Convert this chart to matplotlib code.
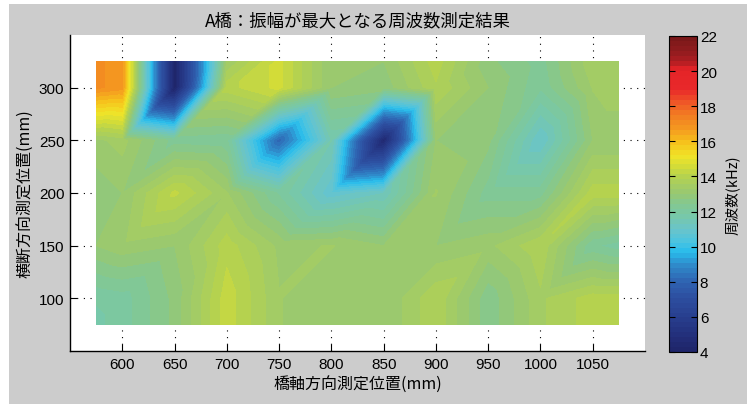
import numpy as np
import matplotlib
matplotlib.use("Agg")
import matplotlib.pyplot as plt
import matplotlib.tri as mtri
from matplotlib.colors import LinearSegmentedColormap, Normalize
from matplotlib.patches import Rectangle

# ---------------- data ----------------
x_mm = [575, 600, 650, 700, 750, 800, 850, 900, 950, 1000, 1050, 1075]
y_mm = [75, 100, 150, 200, 250, 300, 325]
# frequency (kHz), one row per y position (bottom -> top)
freq_y75 = [11.8, 12.0, 12.8, 14.3, 13.3, 13.0, 13.0, 13.8, 12.5, 13.5, 14.0, 14.0]
freq_y100 = [11.9, 12.0, 12.8, 14.3, 13.3, 13.0, 13.0, 13.8, 12.5, 13.5, 14.0, 14.0]
freq_y150 = [13.0, 13.2, 13.0, 14.0, 13.2, 13.3, 13.0, 13.0, 13.2, 13.8, 12.2, 12.0]
freq_y200 = [12.8, 13.0, 14.2, 13.3, 12.1, 10.8, 11.3, 13.3, 12.3, 12.3, 14.0, 14.0]
freq_y250 = [13.2, 13.4, 12.3, 12.2, 8.0, 11.6, 4.4, 13.0, 12.8, 11.0, 13.0, 13.0]
freq_y300 = [17.0, 16.8, 4.0, 14.0, 14.5, 13.0, 12.8, 13.8, 13.0, 12.2, 13.3, 13.5]
freq_y325 = [17.0, 16.8, 4.0, 13.3, 14.5, 13.0, 13.0, 14.0, 12.8, 12.3, 13.5, 13.5]

x_ticks = [600, 650, 700, 750, 800, 850, 900, 950, 1000, 1050]
y_ticks = [100, 150, 200, 250, 300]
cbar_ticks = [4, 6, 8, 10, 12, 14, 16, 18, 20, 22]

title = "A橋：振幅が最大となる周波数測定結果"
xlabel = "橋軸方向測定位置(mm)"
ylabel = "横断方向測定位置(mm)"
cbar_label = "周波数(kHz)"

# ---------------- style ----------------
plt.rcParams['font.family'] = ['Liberation Sans Narrow', 'Liberation Sans', 'DejaVu Sans']
jp = ['Noto Sans CJK JP', 'DejaVu Sans']

anchors = [
    (4.0, '#1e2468'), (5.0, '#23307c'), (6.0, '#283e8e'), (7.0, '#2c4c9e'),
    (8.0, '#2f62b0'), (9.0, '#2f8ccc'), (9.7, '#28bcec'), (10.3, '#4cc4e0'),
    (11.0, '#68c4cc'), (11.8, '#78c8a8'), (12.5, '#84c890'), (13.0, '#96c874'),
    (13.5, '#a4cc64'), (14.0, '#b4d250'), (14.6, '#d4dc38'), (15.2, '#f0e428'),
    (16.0, '#f6c21c'), (16.8, '#f49820'), (17.6, '#f27a22'), (18.4, '#ee4e28'),
    (19.0, '#e8282a'), (20.2, '#e42428'), (20.6, '#b01e22'), (21.2, '#901c1e'),
    (22.0, '#781818'),
]
vmin, vmax = 4.0, 22.0
cmap = LinearSegmentedColormap.from_list(
    'jetlike', [((v - vmin) / (vmax - vmin), c) for v, c in anchors], N=256)
norm = Normalize(vmin, vmax)
levels = np.linspace(vmin, vmax, 65)

fig = plt.figure(figsize=(7.47, 4.06), dpi=100, facecolor='white')
fig.patches.append(Rectangle((9 / 747, 1 / 406), 1, 400 / 406, transform=fig.transFigure,
                             facecolor='#cccccc', edgecolor='none', zorder=-10))

ax = fig.add_axes([70 / 747, 54 / 406, 575 / 747, 316 / 406])
ax.set_facecolor('white')

# build triangulated grid (diagonals lower-left -> upper-right)
X, Y = np.meshgrid(x_mm, y_mm)
Z = np.array([freq_y75, freq_y100, freq_y150, freq_y200, freq_y250, freq_y300, freq_y325])
nx, ny = len(x_mm), len(y_mm)
tris = []
for j in range(ny - 1):
    for i in range(nx - 1):
        a = j * nx + i
        b = a + 1
        c = a + nx
        d = c + 1
        tris.append([a, b, d])
        tris.append([a, d, c])
tri = mtri.Triangulation(X.ravel(), Y.ravel(), np.array(tris))
cs = ax.tricontourf(tri, Z.ravel(), levels=levels, cmap=cmap, norm=norm, zorder=1)

ax.set_xlim(550, 1100)
ax.set_ylim(50, 350)
ax.set_xticks(x_ticks)
ax.set_yticks(y_ticks)
ax.set_axisbelow(True)
ax.grid(True, color='black', linestyle=(0, (1, 5)), linewidth=0.8)
ax.spines['top'].set_visible(False)
ax.spines['right'].set_visible(False)
for s in ['left', 'bottom']:
    ax.spines[s].set_linewidth(1.0)
ax.tick_params(direction='in', length=5, width=0.8, labelsize=11, pad=4)

ax.set_title(title, family=jp, fontsize=12.5, pad=7)
ax.set_xlabel(xlabel, family=jp, fontsize=11.5, labelpad=3)
ax.set_ylabel(ylabel, family=jp, fontsize=11.5, labelpad=4)

cax = fig.add_axes([669 / 747, 53 / 406, 28 / 747, 316 / 406])
cb = fig.colorbar(cs, cax=cax, ticks=cbar_ticks)
cb.ax.set_ylim(vmin, vmax)
cb.ax.tick_params(direction='in', left=True, right=True, length=4, width=0.8,
                  labelsize=11, pad=2)
cb.outline.set_linewidth(0.8)
cb.set_label(cbar_label, family=jp, fontsize=10.5, labelpad=6)

fig.savefig('out.png', dpi=100, facecolor=fig.get_facecolor())
